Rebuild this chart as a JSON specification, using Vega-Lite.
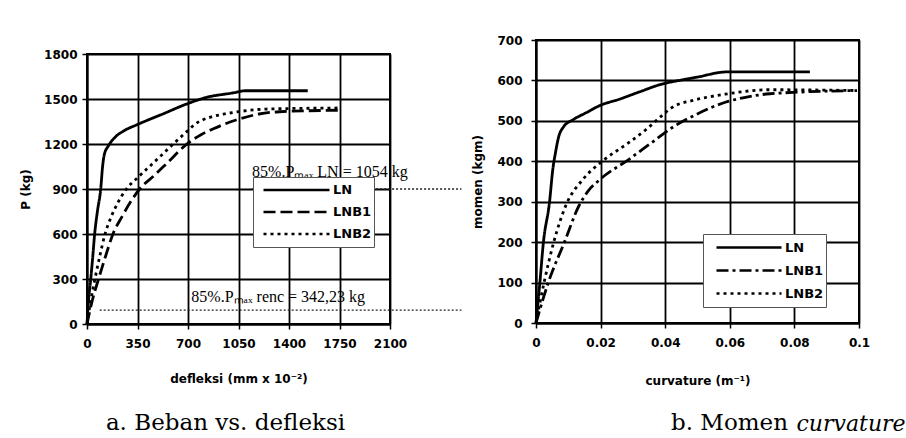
{
  "$schema": "https://vega.github.io/schema/vega-lite/v6.json",
  "background": "white",
  "padding": {"left": 18, "top": 33, "right": 0, "bottom": 0},
  "autosize": {"type": "pad"},
  "datasets": {
    "deflection": [
      {"series": "LN", "x": 0, "y": 0}, {"series": "LN", "x": 10, "y": 150}, {"series": "LN", "x": 26, "y": 300}, {"series": "LN", "x": 40, "y": 450}, {"series": "LN", "x": 53, "y": 600}, {"series": "LN", "x": 72, "y": 750}, {"series": "LN", "x": 95, "y": 900}, {"series": "LN", "x": 108, "y": 1050}, {"series": "LN", "x": 120, "y": 1130}, {"series": "LN", "x": 150, "y": 1190}, {"series": "LN", "x": 200, "y": 1250}, {"series": "LN", "x": 260, "y": 1290}, {"series": "LN", "x": 350, "y": 1330}, {"series": "LN", "x": 525, "y": 1400}, {"series": "LN", "x": 686, "y": 1465}, {"series": "LN", "x": 825, "y": 1510}, {"series": "LN", "x": 1008, "y": 1540}, {"series": "LN", "x": 1100, "y": 1555}, {"series": "LN", "x": 1530, "y": 1555},
      {"series": "LNB1", "x": 0, "y": 0}, {"series": "LNB1", "x": 35, "y": 150}, {"series": "LNB1", "x": 80, "y": 300}, {"series": "LNB1", "x": 128, "y": 450}, {"series": "LNB1", "x": 180, "y": 600}, {"series": "LNB1", "x": 245, "y": 720}, {"series": "LNB1", "x": 306, "y": 820}, {"series": "LNB1", "x": 365, "y": 900}, {"series": "LNB1", "x": 460, "y": 985}, {"series": "LNB1", "x": 550, "y": 1068}, {"series": "LNB1", "x": 690, "y": 1198}, {"series": "LNB1", "x": 790, "y": 1262}, {"series": "LNB1", "x": 872, "y": 1300}, {"series": "LNB1", "x": 1033, "y": 1360}, {"series": "LNB1", "x": 1193, "y": 1400}, {"series": "LNB1", "x": 1332, "y": 1415}, {"series": "LNB1", "x": 1750, "y": 1425},
      {"series": "LNB2", "x": 0, "y": 0}, {"series": "LNB2", "x": 25, "y": 150}, {"series": "LNB2", "x": 55, "y": 300}, {"series": "LNB2", "x": 88, "y": 450}, {"series": "LNB2", "x": 125, "y": 600}, {"series": "LNB2", "x": 170, "y": 720}, {"series": "LNB2", "x": 215, "y": 810}, {"series": "LNB2", "x": 265, "y": 890}, {"series": "LNB2", "x": 350, "y": 975}, {"series": "LNB2", "x": 450, "y": 1065}, {"series": "LNB2", "x": 607, "y": 1208}, {"series": "LNB2", "x": 700, "y": 1290}, {"series": "LNB2", "x": 750, "y": 1333}, {"series": "LNB2", "x": 800, "y": 1360}, {"series": "LNB2", "x": 849, "y": 1377}, {"series": "LNB2", "x": 950, "y": 1400}, {"series": "LNB2", "x": 1033, "y": 1413}, {"series": "LNB2", "x": 1240, "y": 1433}, {"series": "LNB2", "x": 1750, "y": 1440}
    ],
    "curvature": [
      {"series": "LN", "x": 0, "y": 0}, {"series": "LN", "x": 0.0012, "y": 100}, {"series": "LN", "x": 0.0023, "y": 200}, {"series": "LN", "x": 0.0042, "y": 300}, {"series": "LN", "x": 0.0052, "y": 380}, {"series": "LN", "x": 0.006, "y": 420}, {"series": "LN", "x": 0.007, "y": 460}, {"series": "LN", "x": 0.0085, "y": 485}, {"series": "LN", "x": 0.0115, "y": 503}, {"series": "LN", "x": 0.0155, "y": 520}, {"series": "LN", "x": 0.0198, "y": 538}, {"series": "LN", "x": 0.026, "y": 554}, {"series": "LN", "x": 0.0318, "y": 571}, {"series": "LN", "x": 0.039, "y": 591}, {"series": "LN", "x": 0.045, "y": 601}, {"series": "LN", "x": 0.0498, "y": 608}, {"series": "LN", "x": 0.059, "y": 621}, {"series": "LN", "x": 0.0848, "y": 621},
      {"series": "LNB1", "x": 0, "y": 0}, {"series": "LNB1", "x": 0.0038, "y": 100}, {"series": "LNB1", "x": 0.0088, "y": 200}, {"series": "LNB1", "x": 0.0133, "y": 290}, {"series": "LNB1", "x": 0.016, "y": 325}, {"series": "LNB1", "x": 0.0198, "y": 355}, {"series": "LNB1", "x": 0.0288, "y": 405}, {"series": "LNB1", "x": 0.0368, "y": 452}, {"series": "LNB1", "x": 0.0425, "y": 485}, {"series": "LNB1", "x": 0.0494, "y": 515}, {"series": "LNB1", "x": 0.0586, "y": 546}, {"series": "LNB1", "x": 0.066, "y": 560}, {"series": "LNB1", "x": 0.0724, "y": 567}, {"series": "LNB1", "x": 0.0994, "y": 575},
      {"series": "LNB2", "x": 0, "y": 0}, {"series": "LNB2", "x": 0.0025, "y": 100}, {"series": "LNB2", "x": 0.0055, "y": 200}, {"series": "LNB2", "x": 0.0092, "y": 290}, {"series": "LNB2", "x": 0.0145, "y": 355}, {"series": "LNB2", "x": 0.0205, "y": 400}, {"series": "LNB2", "x": 0.0287, "y": 446}, {"series": "LNB2", "x": 0.034, "y": 478}, {"series": "LNB2", "x": 0.039, "y": 513}, {"series": "LNB2", "x": 0.0421, "y": 533}, {"series": "LNB2", "x": 0.0494, "y": 552}, {"series": "LNB2", "x": 0.0586, "y": 566}, {"series": "LNB2", "x": 0.0724, "y": 577}, {"series": "LNB2", "x": 0.0994, "y": 575}
    ],
    "leftRules": [
      {"x": 1144, "x2": 2595, "y": 900},
      {"x": 88, "x2": 2595, "y": 93}
    ],
    "leftNotes": [
      {"x": 1144, "y": 1013, "text": "85%.Pₘₐₓ LN = 1054 kg"},
      {"x": 723, "y": 180, "text": "85%.Pₘₐₓ renc = 342,23 kg"}
    ]
  },
  "title": {
    "text": "curvature",
    "orient": "bottom",
    "anchor": "end",
    "font": "DejaVu Serif",
    "fontSize": 22,
    "fontStyle": "italic",
    "fontWeight": "normal",
    "color": "black",
    "offset": -22,
    "dx": 35
  },
  "spacing": 6,
  "hconcat": [
    {
      "spacing": 6,
      "resolve": {"scale": {"strokeDash": "independent"}, "legend": {"strokeDash": "independent"}},
      "vconcat": [
        {
          "width": 1,
          "height": 1,
          "view": {"stroke": null},
          "data": {"values": [{}]},
          "mark": {"type": "rect", "opacity": 0},
          "encoding": {}
        },
        {
          "width": 303,
          "height": 270,
          "title": {
            "text": "a. Beban vs. defleksi",
            "orient": "bottom",
            "anchor": "middle",
            "frame": "group",
            "font": "DejaVu Serif",
            "fontSize": 23,
            "fontWeight": "normal",
            "color": "black",
            "offset": 28,
            "dx": -13
          },
          "layer": [
            {
              "data": {"name": "leftRules"},
              "mark": {"type": "rule", "strokeDash": [2, 2], "strokeWidth": 1.3, "color": "#222"},
              "encoding": {
                "x": {"field": "x", "type": "quantitative", "scale": {"domain": [0, 2100], "nice": false}},
                "x2": {"field": "x2"},
                "y": {"field": "y", "type": "quantitative", "scale": {"domain": [0, 1800], "nice": false}}
              }
            },
            {
              "data": {"name": "deflection"},
              "mark": {"type": "line", "color": "black", "strokeWidth": 2.8, "interpolate": "monotone"},
              "encoding": {
                "x": {
                  "field": "x", "type": "quantitative",
                  "scale": {"domain": [0, 2100], "nice": false},
                  "axis": {"values": [0, 350, 700, 1050, 1400, 1750, 2100], "format": "d", "title": "defleksi (mm x 10⁻²)", "labelPadding": 9, "titlePadding": 24}
                },
                "y": {
                  "field": "y", "type": "quantitative",
                  "scale": {"domain": [0, 1800], "nice": false},
                  "axis": {"values": [0, 300, 600, 900, 1200, 1500, 1800], "format": "d", "title": "P (kg)", "labelPadding": 5, "titlePadding": 11}
                },
                "strokeDash": {
                  "field": "series", "type": "nominal",
                  "scale": {"domain": ["LN", "LNB1", "LNB2"], "range": [[1, 0], [12, 5], [3, 4]]},
                  "legend": {
                    "orient": "none", "legendX": 166, "legendY": 123, "title": null,
                    "symbolType": "stroke", "symbolSize": 4356, "symbolStrokeWidth": 2.5, "symbolStrokeColor": "black",
                    "clipHeight": 22, "rowPadding": 0, "padding": 2, "symbolOffset": 7, "labelOffset": 2,
                    "labelFont": "DejaVu Sans", "labelFontWeight": "bold", "labelFontSize": 13, "labelColor": "black",
                    "fillColor": "white", "strokeColor": "#555"
                  }
                }
              }
            },
            {
              "data": {"name": "leftNotes"},
              "mark": {"type": "text", "align": "left", "baseline": "middle", "font": "Liberation Serif", "fontSize": 16, "color": "black"},
              "encoding": {
                "x": {"field": "x", "type": "quantitative", "scale": {"domain": [0, 2100], "nice": false}},
                "y": {"field": "y", "type": "quantitative", "scale": {"domain": [0, 1800], "nice": false}},
                "text": {"field": "text"}
              }
            }
          ]
        }
      ]
    },
    {
      "width": 323,
      "height": 283,
      "title": {
        "text": "b. Momen",
        "orient": "bottom",
        "anchor": "end",
        "frame": "group",
        "font": "DejaVu Serif",
        "fontSize": 23,
        "fontWeight": "normal",
        "color": "black",
        "offset": 26,
        "dx": -71
      },
      "data": {"name": "curvature"},
      "mark": {"type": "line", "color": "black", "strokeWidth": 2.8, "interpolate": "monotone"},
      "encoding": {
        "x": {
          "field": "x", "type": "quantitative",
          "scale": {"domain": [0, 0.1], "nice": false},
          "axis": {"values": [0, 0.02, 0.04, 0.06, 0.08, 0.1], "format": "~g", "title": "curvature (m⁻¹)", "labelPadding": 9, "titlePadding": 27}
        },
        "y": {
          "field": "y", "type": "quantitative",
          "scale": {"domain": [0, 700], "nice": false},
          "axis": {"values": [0, 100, 200, 300, 400, 500, 600, 700], "format": "d", "title": "momen (kgm)", "labelPadding": 9, "titlePadding": 12}
        },
        "strokeDash": {
          "field": "series", "type": "nominal",
          "scale": {"domain": ["LN", "LNB1", "LNB2"], "range": [[1, 0], [12, 4, 3, 4], [3, 4]]},
          "legend": {
            "orient": "none", "legendX": 167, "legendY": 194, "title": null,
            "symbolType": "stroke", "symbolSize": 4225, "symbolStrokeWidth": 2.5, "symbolStrokeColor": "black",
            "clipHeight": 23, "rowPadding": 0, "padding": 2, "symbolOffset": 10, "labelOffset": 2,
            "labelFont": "DejaVu Sans", "labelFontWeight": "bold", "labelFontSize": 13, "labelColor": "black",
            "fillColor": "white", "strokeColor": "#555"
          }
        }
      }
    }
  ],
  "resolve": {
    "scale": {"x": "independent", "y": "independent", "strokeDash": "independent"},
    "legend": {"strokeDash": "independent"}
  },
  "config": {
    "view": {"stroke": "black", "strokeWidth": 2},
    "axis": {
      "labelFont": "DejaVu Sans", "labelFontWeight": "bold", "labelFontSize": 12, "labelColor": "black",
      "labelFlush": false, "labelOverlap": false,
      "titleFont": "DejaVu Sans", "titleFontWeight": "bold", "titleFontSize": 12, "titleColor": "black",
      "gridColor": "black", "gridWidth": 1.8, "gridOpacity": 1,
      "tickColor": "black", "tickWidth": 1.5, "tickSize": 5,
      "domainColor": "black", "domainWidth": 2
    }
  }
}
